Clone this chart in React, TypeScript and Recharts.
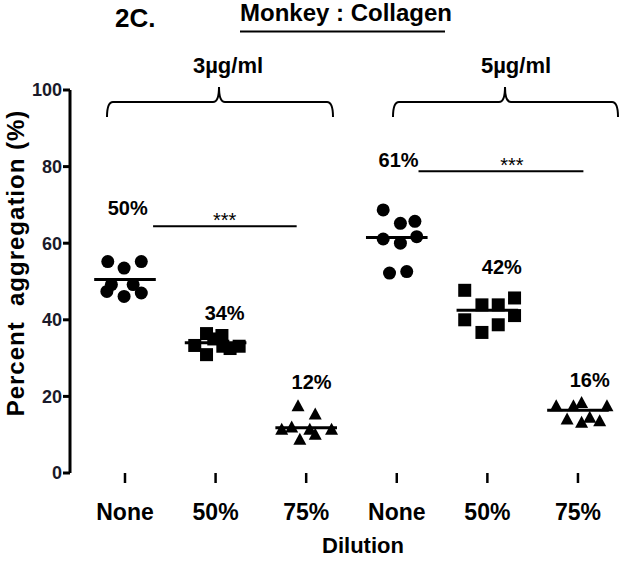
import {
  ReferenceDot,
  ReferenceLine,
  Scatter,
  ScatterChart,
  XAxis,
  YAxis,
} from "recharts";

const categories = ["None", "50%", "75%", "None", "50%", "75%"];
const concentrations = ["3µg/ml", "5µg/ml"];

// percent aggregation, one array per group (8 animals each)
const none3 = [55.2, 53.5, 55.2, 47.4, 49.2, 46.1, 49.2, 47.0];
const dil50_3 = [36.4, 35.9, 33.3, 30.9, 33.1, 33.1, 35.0, 32.5];
const dil75_3 = [17.4, 15.3, 11.3, 11.3, 11.3, 8.7, 10.0, 11.9];
const none5 = [68.7, 65.2, 65.7, 61.1, 60.0, 61.7, 52.2, 52.6];
const dil50_5 = [47.7, 43.9, 43.9, 45.7, 40.0, 36.7, 38.7, 41.1];
const dil75_5 = [17.4, 17.4, 18.3, 17.4, 14.0, 13.1, 14.4, 13.5];

// horizontal spread of the dots inside each column
const jitterNone3 = [-0.19, -0.01, 0.18, -0.2, -0.15, -0.01, 0.09, 0.18];
const jitter50_3 = [-0.1, 0.07, -0.23, -0.1, 0.08, 0.26, -0.02, 0.16];
const jitter75_3 = [-0.09, 0.1, -0.27, 0.04, 0.28, -0.07, 0.1, -0.16];
const jitterNone5 = [-0.15, 0.04, 0.2, -0.15, 0.04, 0.22, -0.08, 0.11];
const jitter50_5 = [-0.25, -0.06, 0.12, 0.3, -0.25, -0.06, 0.12, 0.3];
const jitter75_5 = [-0.24, -0.05, 0.04, 0.32, -0.12, 0.04, 0.13, 0.24];

const medians = [50.5, 34, 11.8, 61.5, 42.5, 16.4];
const medianLabels = ["50%", "34%", "12%", "61%", "42%", "16%"];
const labelX = [1.03, 2.1, 3.06, 4.02, 5.16, 6.13];
const labelY = [69.2, 41.8, 23.9, 81.7, 53.9, 24.4];

const sigLines = [
  { from: 1.31, to: 2.895, y: 64.4, starX: 2.1, starY: 66.1 },
  { from: 4.24, to: 6.06, y: 78.8, starX: 5.27, starY: 80.4 },
];

const groups = [
  { values: none3, jitter: jitterNone3, shape: "circle" },
  { values: dil50_3, jitter: jitter50_3, shape: "square" },
  { values: dil75_3, jitter: jitter75_3, shape: "triangle" },
  { values: none5, jitter: jitterNone5, shape: "circle" },
  { values: dil50_5, jitter: jitter50_5, shape: "square" },
  { values: dil75_5, jitter: jitter75_5, shape: "triangle" },
];

function Marker({ cx, cy, kind }: { cx?: number; cy?: number; kind: string }) {
  if (cx == null || cy == null) return null;
  if (kind === "circle") return <circle cx={cx} cy={cy} r={6.5} fill="#000" />;
  if (kind === "square")
    return <rect x={cx - 6.5} y={cy - 6.5} width={13} height={13} fill="#000" />;
  return (
    <path
      d={`M${cx},${cy - 7} L${cx + 6.5},${cy + 5} L${cx - 6.5},${cy + 5} Z`}
      fill="#000"
    />
  );
}

const bold = { fontWeight: "bold" as const, fill: "#000" };

export default function App() {
  return (
    <div
      style={{
        position: "absolute",
        left: 0,
        top: 0,
        width: 630,
        height: 561,
        background: "#fff",
        fontFamily: "'Liberation Sans', Arial, sans-serif",
      }}
    >
      <ScatterChart
        width={630}
        height={561}
        margin={{ top: 90, right: 9, bottom: 0, left: 0 }}
      >
        <XAxis
          type="number"
          dataKey="x"
          domain={[0.393, 6.475]}
          ticks={[1, 2, 3, 4, 5, 6]}
          interval={0}
          tickFormatter={(v) => categories[v - 1]}
          axisLine={false}
          tickLine={{ stroke: "#000", strokeWidth: 2.5 }}
          tickSize={10}
          tickMargin={21}
          height={88}
          tick={{ ...bold, fontSize: 23 }}
          allowDataOverflow
        />
        <YAxis
          type="number"
          dataKey="y"
          domain={[0, 100]}
          ticks={[0, 20, 40, 60, 80, 100]}
          width={70}
          axisLine={{ stroke: "#000", strokeWidth: 3 }}
          tickLine={{ stroke: "#000", strokeWidth: 3 }}
          tickSize={7}
          tickMargin={1}
          tick={{ ...bold, fill: "#1a1a2a", fontSize: 18 }}
        />
        {groups.map((g, i) => (
          <Scatter
            key={i}
            data={g.values.map((v, j) => ({ x: i + 1 + g.jitter[j], y: v }))}
            isAnimationActive={false}
            shape={(p: any) => <Marker cx={p.cx} cy={p.cy} kind={g.shape} />}
          />
        ))}
        {medians.map((m, i) => (
          <ReferenceLine
            key={`m${i}`}
            segment={[
              { x: i + 1 - 0.34, y: m },
              { x: i + 1 + 0.34, y: m },
            ]}
            stroke="#000"
            strokeWidth={3}
          />
        ))}
        {sigLines.map((s, i) => (
          <ReferenceLine
            key={`s${i}`}
            segment={[
              { x: s.from, y: s.y },
              { x: s.to, y: s.y },
            ]}
            stroke="#000"
            strokeWidth={2}
          />
        ))}
        {sigLines.map((s, i) => (
          <ReferenceDot
            key={`st${i}`}
            x={s.starX}
            y={s.starY}
            r={0}
            fill="none"
            stroke="none"
            label={{ value: "***", position: "center", fontSize: 20, fill: "#000" }}
          />
        ))}
        {medianLabels.map((t, i) => (
          <ReferenceDot
            key={`l${i}`}
            x={labelX[i]}
            y={labelY[i]}
            r={0}
            fill="none"
            stroke="none"
            label={{ value: t, position: "center", fontSize: 20, ...bold }}
          />
        ))}
      </ScatterChart>
      <svg
        width={630}
        height={561}
        style={{ position: "absolute", left: 0, top: 0, pointerEvents: "none" }}
      >
        <text x={115} y={27} fontSize={26} {...bold}>
          2C.
        </text>
        <text x={240} y={21} fontSize={24} {...bold}>
          Monkey : Collagen
        </text>
        <line x1={240} x2={445} y1={31.5} y2={31.5} stroke="#000" strokeWidth={2} />
        <text x={228} y={73} fontSize={22} textAnchor="middle" {...bold}>
          {concentrations[0]}
        </text>
        <text x={516} y={73} fontSize={22} textAnchor="middle" {...bold}>
          {concentrations[1]}
        </text>
        <path
          d="M107,117 Q107,102 113,102 L213,102 Q219,102 219,87 Q219,102 225,102 L327,102 Q333,102 333,117"
          fill="none"
          stroke="#000"
          strokeWidth={2}
        />
        <path
          d="M393,117 Q393,102 399,102 L499,102 Q505,102 505,87 Q505,102 511,102 L612,102 Q618,102 618,117"
          fill="none"
          stroke="#000"
          strokeWidth={2}
        />
        <text
          x={15}
          y={263}
          fontSize={24}
          letterSpacing={1}
          textAnchor="middle"
          dominantBaseline="central"
          transform="rotate(-90 15 263)"
          style={{ whiteSpace: "pre" }}
          {...bold}
        >
          Percent  aggregation (%)
        </text>
        <text x={363} y={553} fontSize={22} textAnchor="middle" {...bold}>
          Dilution
        </text>
      </svg>
    </div>
  );
}
